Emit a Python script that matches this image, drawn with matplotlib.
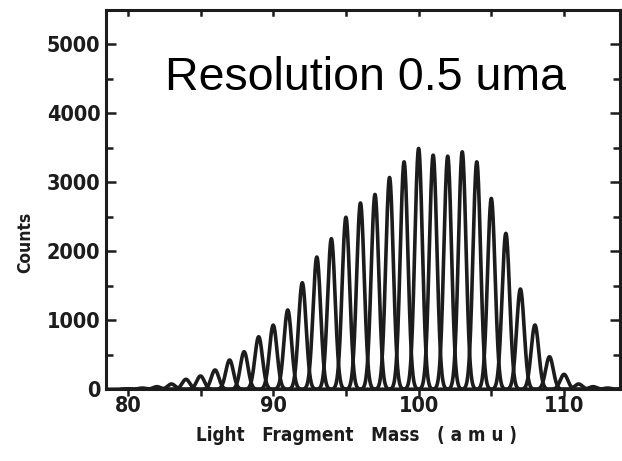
import numpy as np
import matplotlib
matplotlib.use("Agg")
import matplotlib.pyplot as plt
from matplotlib.ticker import MultipleLocator

# peak heights (counts) for each light-fragment mass
masses = list(range(80, 115))
counts = [8, 18, 38, 77, 145, 193, 280, 425, 545, 762,
          930, 1150, 1545, 1918, 2184, 2495, 2702, 2826, 3072, 3299,
          3493, 3396, 3381, 3444, 3299, 2768, 2261, 1454, 932, 472,
          217, 77, 38, 18, 8]
sigma = 0.26  # peak width (amu)

xticks = [80, 90, 100, 110]
yticks = [0, 1000, 2000, 3000, 4000, 5000]

fig = plt.figure(figsize=(6.22, 4.61), dpi=100)
ax = fig.add_axes([106 / 622, 1 - 389.3 / 461, 514 / 622, 379.3 / 461])

ink = "#1c1c1c"
for m, c in zip(masses, counts):
    x = np.linspace(m - 1.4, m + 1.4, 200)
    ax.plot(x, c * np.exp(-(x - m) ** 2 / (2 * sigma ** 2)), color=ink, lw=2.6)

ax.set_xlim(78.5, 113.85)
ax.set_ylim(0, 5500)
ax.set_xticks(xticks)
ax.set_yticks(yticks)
ax.xaxis.set_minor_locator(MultipleLocator(5))
ax.yaxis.set_minor_locator(MultipleLocator(500))

for s in ax.spines.values():
    s.set_linewidth(2.2)
    s.set_color(ink)

ax.tick_params(axis="y", which="both", direction="in", left=True, right=True,
               width=1.8, color=ink, pad=4)
ax.tick_params(axis="y", which="major", length=7)
ax.tick_params(axis="y", which="minor", length=5)
ax.tick_params(axis="x", which="both", direction="out", top=False,
               length=5, width=1.8, color=ink, pad=0)

for t in ax.get_xticklabels() + ax.get_yticklabels():
    t.set_fontweight("bold")
    t.set_fontstretch("condensed")
    t.set_fontsize(15.5)
    t.set_color(ink)

# top axis ticks pointing inward
for xv in range(80, 115, 5):
    ax.plot([xv, xv], [5500, 5500 - 70], color=ink, lw=1.8, clip_on=False)

fig.text(25 / 622, 1 - 242 / 461, "Counts", rotation=90, ha="center", va="center",
         weight="bold", stretch="condensed", size=12.5, color=ink)
fig.text(357 / 622, 1 - 435 / 461, "Light   Fragment   Mass   ( a m u )",
         ha="center", va="center", weight="bold", stretch="condensed",
         size=13.5, color=ink)

fig.text(165 / 622, 1 - 90 / 461, "Resolution 0.5 uma", ha="left", va="baseline",
         family="Liberation Sans", size=33.5, color="black")

fig.savefig("out.png", dpi=100)
